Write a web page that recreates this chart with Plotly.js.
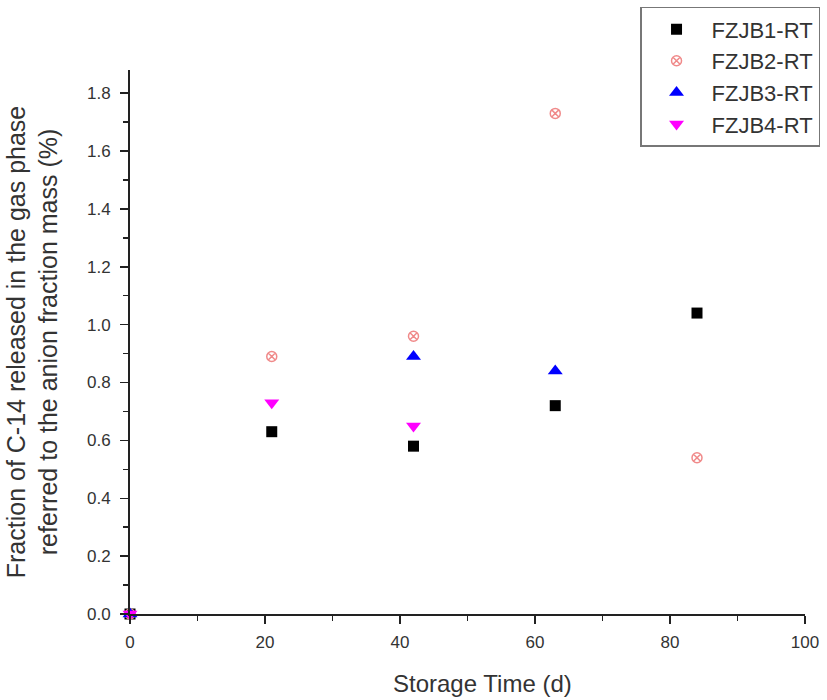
<!DOCTYPE html>
<html>
<head>
<meta charset="utf-8">
<script src="https://cdn.plot.ly/plotly-3.0.1.min.js"></script>
<style>html,body{margin:0;padding:0;background:#fff;}#chart{width:827px;height:700px;}</style>
</head>
<body>
<div id="chart"></div>
<script>
const seriesNames = ["FZJB1-RT", "FZJB2-RT", "FZJB3-RT", "FZJB4-RT"];
const x1 = [0, 21, 42, 63, 84];
const y1 = [0, 0.63, 0.58, 0.72, 1.04];
const x2 = [0, 21, 42, 63, 84];
const y2 = [0, 0.89, 0.96, 1.73, 0.54];
const x3 = [0, 42, 63];
const y3 = [0, 0.89, 0.84];
const x4 = [0, 21, 42];
const y4 = [0, 0.73, 0.65];
const xTicks = [0, 20, 40, 60, 80, 100];
const yTicks = [0, 0.2, 0.4, 0.6, 0.8, 1.0, 1.2, 1.4, 1.6, 1.8];
const xTitle = "Storage Time (d)";
const yTitle = "Fraction of C-14 released in the gas phase<br>referred to the anion fraction mass (%)";

const xs = [x1, x2, x3, x4];
const ys = [y1, y2, y3, y4];
const colors = ["#000000", "#f08a8a", "#0000ff", "#ff00ff"];
const symbols = ["square", "circle-x-open", "triangle-up", "triangle-down"];
const sizes = [11, 10, 13, 13];

const traces = seriesNames.map((n, i) => ({
  type: "scatter",
  mode: "markers",
  name: n,
  legendgroup: "g" + i,
  x: xs[i],
  y: ys[i],
  cliponaxis: false,
  marker: {symbol: symbols[i], color: colors[i], size: sizes[i], line: {color: colors[i], width: i === 1 ? 1.5 : 0}}
}));

const layout = {
  width: 827, height: 700,
  margin: {l: 130, r: 22, t: 70, b: 86, autoexpand: false},
  paper_bgcolor: "#fff", plot_bgcolor: "#fff",
  font: {family: "Liberation Sans, Arial, sans-serif", color: "#333", size: 17},
  showlegend: true,
  legend: {
    x: 0.7556, y: 1.116, xanchor: "left", yanchor: "top",
    bordercolor: "#777", borderwidth: 1.5, bgcolor: "#fff",
    font: {size: 22, color: "#333"},
    itemwidth: 60, tracegroupgap: 0
  },
  xaxis: {
    range: [0, 100], tickvals: xTicks, ticktext: xTicks.map(String),
    ticks: "outside", ticklen: 8, tickwidth: 1.5, tickcolor: "#222",
    minor: {dtick: 10, ticks: "outside", ticklen: 5, tickcolor: "#222", tickwidth: 1.5, showgrid: false},
    showline: true, linecolor: "#222", linewidth: 2, showgrid: false, zeroline: false,
    tickfont: {size: 17, color: "#333"}, ticklabelstandoff: 4
  },
  yaxis: {
    range: [0, 1.88], tickvals: yTicks, tickformat: ".1f",
    ticks: "outside", ticklen: 8, tickwidth: 1.5, tickcolor: "#222",
    minor: {dtick: 0.1, ticks: "outside", ticklen: 5, tickcolor: "#222", tickwidth: 1.5, showgrid: false},
    showline: true, linecolor: "#222", linewidth: 2, showgrid: false, zeroline: false,
    tickfont: {size: 17, color: "#333"}, ticklabelstandoff: 6,
    title: {text: yTitle, font: {size: 25, color: "#333"}, standoff: 22}
  },
  annotations: [{
    text: xTitle, xref: "paper", yref: "paper", x: 0.5215, y: -0.127,
    xanchor: "center", yanchor: "middle", showarrow: false,
    font: {size: 24, color: "#333"}
  }]
};

Plotly.newPlot("chart", traces, layout, {displayModeBar: false, staticPlot: true});
</script>
</body>
</html>
